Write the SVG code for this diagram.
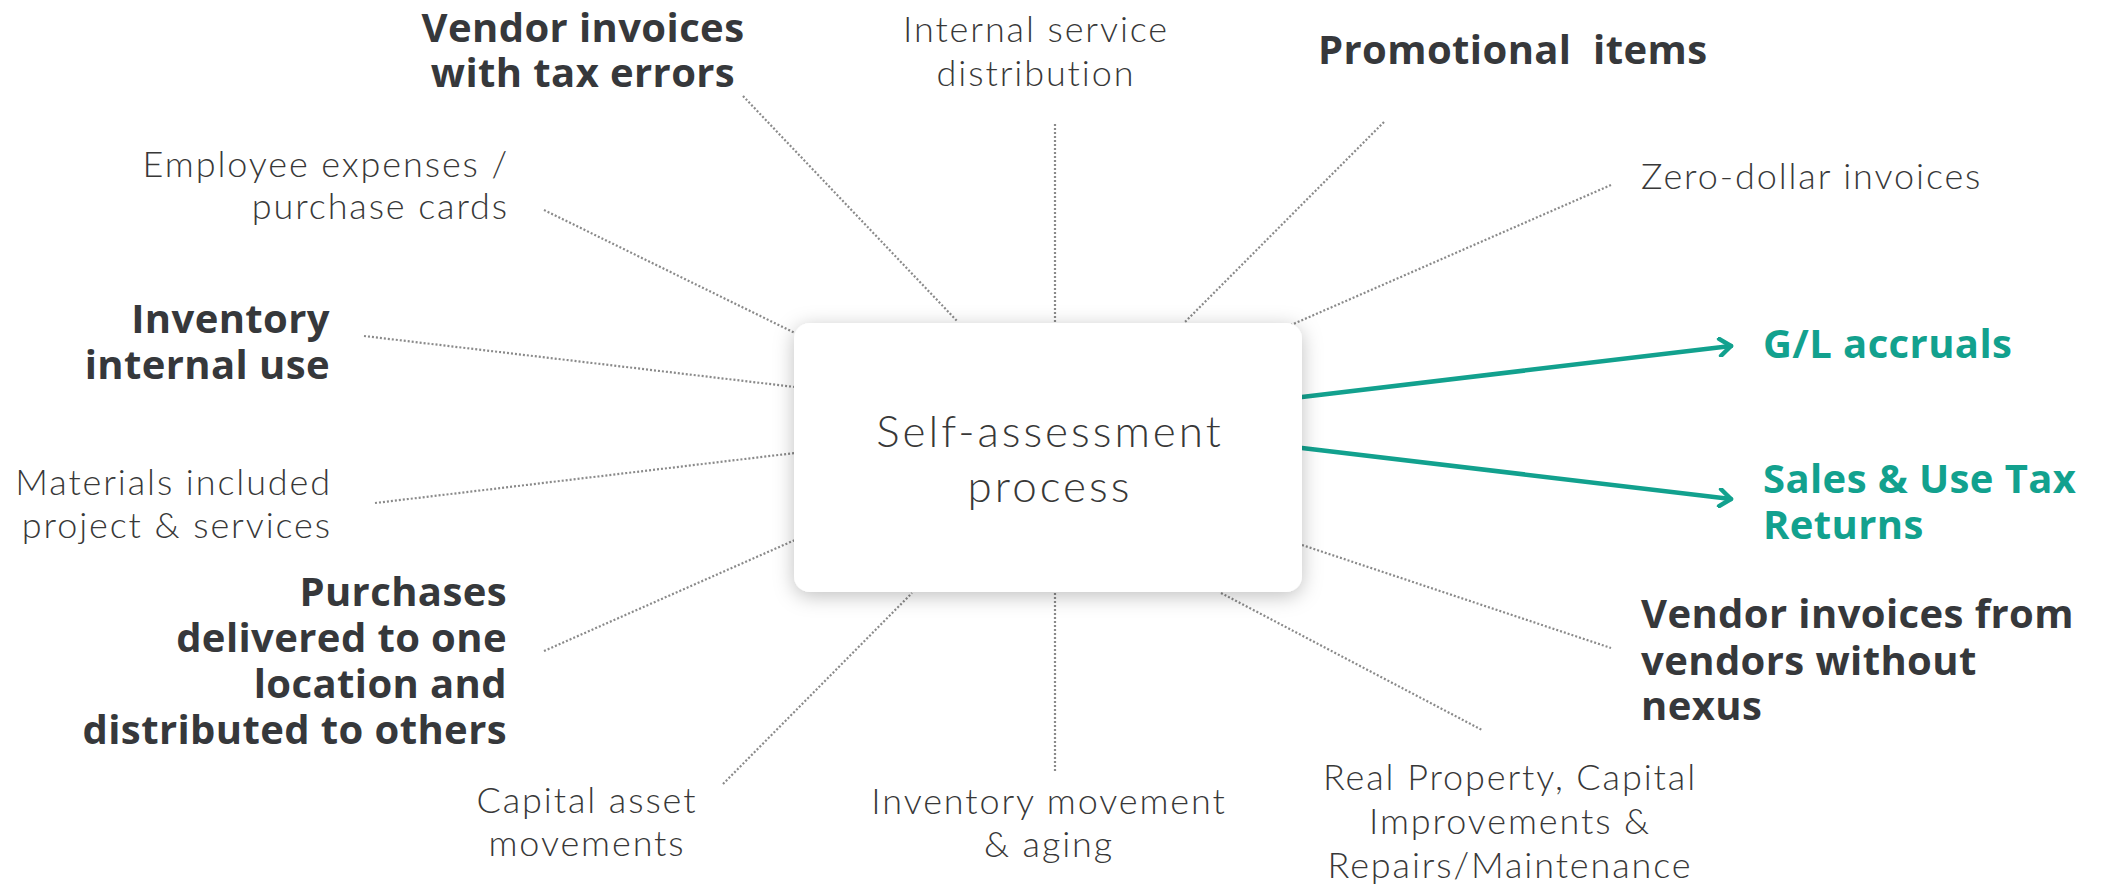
<svg xmlns="http://www.w3.org/2000/svg" width="2102" height="886" viewBox="0 0 2102 886">
<defs>
<filter id="sh" x="-20%" y="-30%" width="140%" height="160%">
<feDropShadow dx="0" dy="4" stdDeviation="10" flood-color="#000" flood-opacity="0.25"/>
</filter>
<marker id="chev" viewBox="0 0 20 20" refX="16" refY="10" markerWidth="20" markerHeight="20" markerUnits="userSpaceOnUse" orient="auto">
<path d="M5,1.5 L16,10 L5,18.5" fill="none" stroke="#12a18e" stroke-width="4.5" stroke-linecap="round" stroke-linejoin="round"/>
</marker>
</defs>
<style>
.lt{font-family:Lato,"Liberation Sans",sans-serif;font-weight:300;font-size:36px;letter-spacing:1.9px;fill:#383838}
.bd{font-family:"Open Sans","Liberation Sans",sans-serif;font-weight:700;font-size:40px;letter-spacing:0.4px;fill:#36383b}
.tl{font-family:"Open Sans","Liberation Sans",sans-serif;font-weight:700;font-size:40px;letter-spacing:0.4px;fill:#12a18e}
.ctr{font-family:Lato,"Liberation Sans",sans-serif;font-weight:300;font-size:44px;letter-spacing:3px;fill:#383838;text-anchor:middle}
.dot{stroke:#8a8a8a;stroke-width:2.2;stroke-dasharray:2 2;fill:none}
.arr{stroke:#12a18e;stroke-width:4.5;fill:none;stroke-linecap:round}
.mid{text-anchor:middle}
.end{text-anchor:end}
</style>
<rect width="2102" height="886" fill="#ffffff"/>
<g id="connectors">
<line class="dot" x1="743" y1="96" x2="958" y2="322"/>
<line class="dot" x1="544" y1="210" x2="795" y2="333"/>
<line class="dot" x1="364" y1="336" x2="795" y2="387"/>
<line class="dot" x1="1055" y1="124" x2="1055" y2="322"/>
<line class="dot" x1="1384" y1="122" x2="1184" y2="323"/>
<line class="dot" x1="1611" y1="185" x2="1291" y2="325"/>
<line class="dot" x1="375" y1="503" x2="795" y2="453"/>
<line class="dot" x1="544" y1="651" x2="795" y2="540"/>
<line class="dot" x1="723" y1="784" x2="912" y2="593"/>
<line class="dot" x1="1055" y1="593" x2="1055" y2="771"/>
<line class="dot" x1="1221" y1="593" x2="1482" y2="730"/>
<line class="dot" x1="1302" y1="545" x2="1611" y2="648"/>
<line class="arr" x1="1302" y1="397" x2="1731" y2="346" marker-end="url(#chev)"/>
<line class="arr" x1="1302" y1="448" x2="1731" y2="499" marker-end="url(#chev)"/>
</g>
<g id="center">
<rect x="794" y="323" width="508" height="269" rx="16" fill="#ffffff" filter="url(#sh)"/>
<text class="ctr"><tspan x="1050" y="447">Self-assessment</tspan><tspan x="1050" y="502">process</tspan></text>
</g>
<g id="n-vendor-tax"><text class="bd mid"><tspan x="583" y="42">Vendor invoices</tspan><tspan x="583" y="87">with tax errors</tspan></text></g>
<g id="n-internal-service"><text class="lt mid"><tspan x="1036" y="42">Internal service</tspan><tspan x="1036" y="86">distribution</tspan></text></g>
<g id="n-promo"><text class="bd" x="1318" y="64" xml:space="preserve">Promotional  items</text></g>
<g id="n-zero"><text class="lt" x="1641" y="189">Zero-dollar invoices</text></g>
<g id="n-employee"><text class="lt end"><tspan x="509" y="177">Employee expenses /</tspan><tspan x="509" y="219">purchase cards</tspan></text></g>
<g id="n-inventory-internal"><text class="bd end"><tspan x="330" y="333">Inventory</tspan><tspan x="330" y="379">internal use</tspan></text></g>
<g id="n-materials"><text class="lt end"><tspan x="332" y="495">Materials included</tspan><tspan x="332" y="538">project &amp; services</tspan></text></g>
<g id="n-purchases"><text class="bd end"><tspan x="507" y="606">Purchases</tspan><tspan x="507" y="652">delivered to one</tspan><tspan x="507" y="698">location and</tspan><tspan x="507" y="744">distributed to others</tspan></text></g>
<g id="n-capital"><text class="lt mid"><tspan x="587" y="813">Capital asset</tspan><tspan x="587" y="856">movements</tspan></text></g>
<g id="n-inv-move"><text class="lt mid"><tspan x="1049" y="814">Inventory movement</tspan><tspan x="1049" y="857">&amp; aging</tspan></text></g>
<g id="n-real"><text class="lt mid"><tspan x="1510" y="790">Real Property, Capital</tspan><tspan x="1510" y="834">Improvements &amp;</tspan><tspan x="1510" y="878">Repairs/Maintenance</tspan></text></g>
<g id="n-nexus"><text class="bd"><tspan x="1641" y="628">Vendor invoices from</tspan><tspan x="1641" y="675">vendors without</tspan><tspan x="1641" y="720">nexus</tspan></text></g>
<g id="n-gl"><text class="tl" x="1763" y="358">G/L accruals</text></g>
<g id="n-sales"><text class="tl"><tspan x="1763" y="493">Sales &amp; Use Tax</tspan><tspan x="1763" y="539">Returns</tspan></text></g>
</svg>
